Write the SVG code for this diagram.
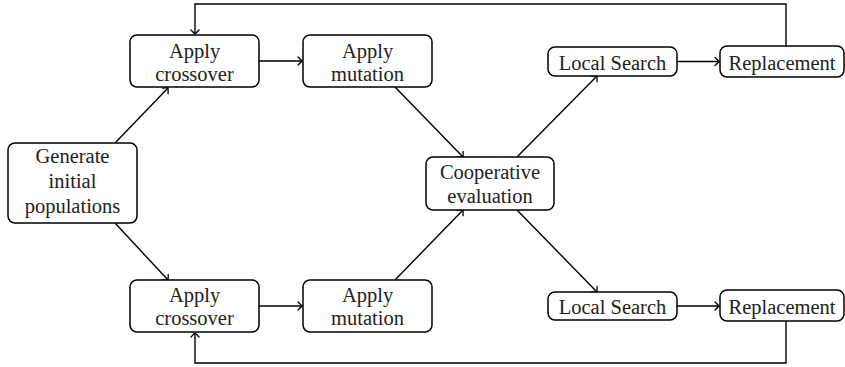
<svg xmlns="http://www.w3.org/2000/svg" width="845" height="367" viewBox="0 0 845 367">
<defs>
<marker id="arr" markerUnits="userSpaceOnUse" markerWidth="12" markerHeight="12" viewBox="-6 -6 12 12" refX="0" refY="0" orient="auto">
<path d="M -4,-4 Q -1,-1.2 0,0 Q -1,1.2 -4,4" fill="none" stroke="#000" stroke-width="1.3" stroke-linecap="round"/>
</marker>
</defs>
<style>
.box{fill:#fff;stroke:#000;stroke-width:1.5}
.t{font-family:"Liberation Serif","DejaVu Serif",serif;font-size:20.5px;fill:#222;text-anchor:middle}
.c{fill:none;stroke:#000;stroke-width:1.4}
.a{marker-end:url(#arr)}
</style>
<rect width="845" height="367" fill="#fff"/>
<g id="connectors">
<path class="c a" d="M786,46 V4 H195 V34"/>
<path class="c a" d="M786,321 V363 H195 V333"/>
<path class="c a" d="M115,143 L168,88"/>
<path class="c a" d="M115,223 L168,280"/>
<path class="c a" d="M259,61 H302"/>
<path class="c a" d="M259,306 H302"/>
<path class="c a" d="M395,87 L463,157"/>
<path class="c a" d="M395,280 L463,210"/>
<path class="c a" d="M517,157 L597,76"/>
<path class="c a" d="M517,210 L597,292"/>
<path class="c a" d="M677,61.5 H719"/>
<path class="c a" d="M677,306 H719"/>
</g>
<g id="gen">
<rect class="box" x="8" y="143" width="129" height="80" rx="7"/>
<text class="t" x="72.5" y="163">Generate</text>
<text class="t" x="72.5" y="188">initial</text>
<text class="t" x="72.5" y="213">populations</text>
</g>
<g id="cross1">
<rect class="box" x="130" y="35" width="129" height="52" rx="7"/>
<text class="t" x="194.5" y="58">Apply</text>
<text class="t" x="194.5" y="81">crossover</text>
</g>
<g id="mut1">
<rect class="box" x="303" y="35" width="129" height="52" rx="7"/>
<text class="t" x="367.5" y="58">Apply</text>
<text class="t" x="367.5" y="81">mutation</text>
</g>
<g id="cross2">
<rect class="box" x="130" y="280" width="129" height="52" rx="7"/>
<text class="t" x="194.5" y="302">Apply</text>
<text class="t" x="194.5" y="325">crossover</text>
</g>
<g id="mut2">
<rect class="box" x="303" y="280" width="129" height="52" rx="7"/>
<text class="t" x="367.5" y="302">Apply</text>
<text class="t" x="367.5" y="325">mutation</text>
</g>
<g id="coop">
<rect class="box" x="426" y="157" width="128" height="53" rx="7"/>
<text class="t" x="490" y="179">Cooperative</text>
<text class="t" x="490" y="203">evaluation</text>
</g>
<g id="ls1">
<rect class="box" x="548" y="47" width="129" height="29" rx="7"/>
<text class="t" x="612.5" y="69.5">Local Search</text>
</g>
<g id="rep1">
<rect class="box" x="720" y="46" width="124" height="31" rx="7"/>
<text class="t" x="782" y="69.5">Replacement</text>
</g>
<g id="ls2">
<rect class="box" x="548" y="292" width="129" height="28" rx="7"/>
<text class="t" x="612.5" y="313.5">Local Search</text>
</g>
<g id="rep2">
<rect class="box" x="720" y="290" width="124" height="31" rx="7"/>
<text class="t" x="782" y="313.5">Replacement</text>
</g>
</svg>
